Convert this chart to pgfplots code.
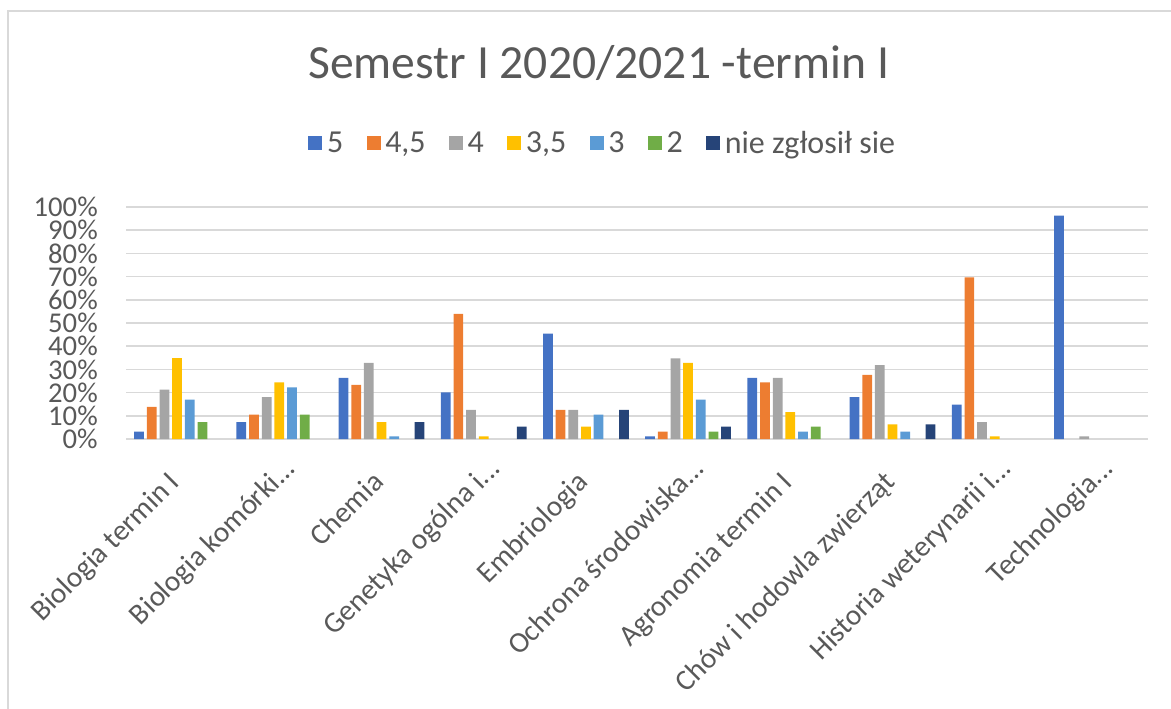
\documentclass[border=0pt]{standalone}
\usepackage{fontspec}
\setmainfont{Carlito}
\usepackage{pgfplots}
\usepackage{pgfplotstable}
\pgfplotsset{compat=1.18}
\definecolor{cA}{HTML}{4472C4}
\definecolor{cB}{HTML}{ED7D31}
\definecolor{cC}{HTML}{A5A5A5}
\definecolor{cD}{HTML}{FFC000}
\definecolor{cE}{HTML}{5B9BD5}
\definecolor{cF}{HTML}{70AD47}
\definecolor{cG}{HTML}{264478}
\definecolor{txt}{HTML}{595959}
\definecolor{grd}{HTML}{D9D9D9}

\pgfplotstableread{
x  a     b     c     d     e     f     g
0  3.2   13.8  21.3  34.9  17.0  7.3   0
1  7.3   10.5  18.0  24.4  22.3  10.5  0
2  26.4  23.3  32.8  7.3   1.1   0     7.3
3  20.1  53.9  12.6  1.1   0     0     5.3
4  45.4  12.6  12.6  5.3   10.5  0     12.6
5  1.1   3.2   34.8  32.8  17.0  3.2   5.3
6  26.4  24.4  26.4  11.6  3.2   5.3   0
7  18.0  27.6  31.8  6.3   3.2   0     6.3
8  14.8  69.7  7.3   1.1   0     0     0
9  96.3  0     1.1   0     0     0     0
}\datatable

\newcommand{\tr}{\hspace*{14.9pt}}
\newcommand{\el}{.{}.{}.}

\begin{document}
\begin{tikzpicture}
\useasboundingbox (0pt,0pt) rectangle (878.25pt,531pt);
\draw[grd, line width=1.2pt] (6pt,-2pt) -- (6pt,522.75pt) -- (880pt,522.75pt);
\node[anchor=base, font=\fontsize{35.7}{42}\selectfont, text=txt, inner sep=0pt]
  at (449pt,471.75pt) {Semestr I 2020/2021 -termin I};
\begin{axis}[
  at={(94.5pt,201.75pt)}, anchor=south west,
  scale only axis, width=766.5pt, height=174pt,
  ybar=2.2pt, bar width=7.3pt,
  xmin=-0.5, xmax=9.5, ymin=0, ymax=100,
  enlargelimits=false,
  unbounded coords=discard,
  y filter/.expression={y==0 ? nan : y},
  ytick={0,10,...,100},
  /pgf/number format/assume math mode=true,
  yticklabel={\pgfmathprintnumber{\tick}\%},
  yticklabel style={font=\fontsize{21.5}{24}\selectfont, text=txt, inner sep=0pt, xshift=-21pt},
  xtick={0,1,2,3,4,5,6,7,8,9},
  xticklabels={{Biologia termin I\tr}, {Biologia komórki\el}, {Chemia\tr}, {Genetyka ogólna i\el}, {Embriologia\tr}, {Ochrona środowiska\el}, {Agronomia termin I\tr}, {Chów i hodowla zwierząt\tr}, {Historia weterynarii i\el}, {Technologia\el}},
  xticklabel style={font=\fontsize{22}{26}\selectfont, text=txt, inner sep=0pt, xshift=13.5pt, yshift=-18.75pt, rotate=45, anchor=base east},
  axis line style={draw=none},
  major tick style={draw=none},
  ymajorgrids,
  grid style={grd, line width=1.1pt},
  legend columns=7,
  legend image code/.code={\fill[#1] (0pt,-5pt) rectangle (10.5pt,5.5pt); \path (14pt,0pt);},
  legend style={draw=none, fill=none, at={(0.4655,1.276)}, anchor=center,
    font=\fontsize{24}{28}\selectfont, text=txt,
    nodes={inner sep=0pt},
    /tikz/every even column/.append style={column sep=17.5pt}},
]
\addplot[fill=cA, draw=none] table[x=x,y=a]{\datatable};
\addlegendentry{5}
\addplot[fill=cB, draw=none] table[x=x,y=b]{\datatable};
\addlegendentry{4,5}
\addplot[fill=cC, draw=none] table[x=x,y=c]{\datatable};
\addlegendentry{4}
\addplot[fill=cD, draw=none] table[x=x,y=d]{\datatable};
\addlegendentry{3,5}
\addplot[fill=cE, draw=none] table[x=x,y=e]{\datatable};
\addlegendentry{3}
\addplot[fill=cF, draw=none] table[x=x,y=f]{\datatable};
\addlegendentry{2}
\addplot[fill=cG, draw=none] table[x=x,y=g]{\datatable};
\addlegendentry{nie zgłosił sie}
\end{axis}
\end{tikzpicture}
\end{document}
